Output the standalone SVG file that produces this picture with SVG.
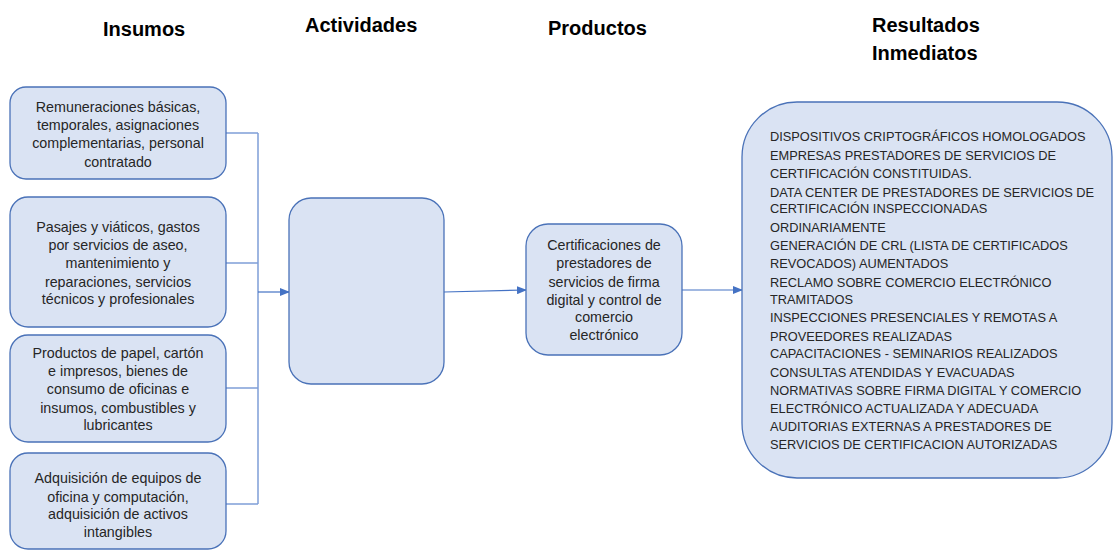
<svg xmlns="http://www.w3.org/2000/svg" width="1115" height="551" viewBox="0 0 1115 551">
<style>
.title{font-family:"Liberation Sans",Arial,sans-serif;font-weight:bold;font-size:20px;fill:#000}
.box{fill:#DAE3F3;stroke:#4A72B8;stroke-width:1.3}
.t{font-family:"Liberation Sans",Arial,sans-serif;font-size:14.3px;fill:#262626;text-anchor:middle}
.r{font-family:"Liberation Sans",Arial,sans-serif;font-size:12.8px;fill:#262626}
.ln{fill:none;stroke:#4472C4;stroke-width:1.2}
.lnl{fill:none;stroke:#7F9FD8;stroke-width:1.5}
</style>
<defs>
<marker id="ah" markerWidth="10" markerHeight="8" refX="9" refY="4" orient="auto" markerUnits="userSpaceOnUse">
<path d="M0,0 L10,4 L0,8 Z" fill="#4472C4"/>
</marker>
</defs>
<rect width="1115" height="551" fill="#fff"/>
<g id="titles">
<text class="title" x="103" y="36">Insumos</text>
<text class="title" x="305" y="32">Actividades</text>
<text class="title" x="548" y="35">Productos</text>
<text class="title" x="872" y="32">Resultados</text>
<text class="title" x="872" y="60">Inmediatos</text>
</g>
<g id="connectors">
<path class="lnl" d="M226,133 H258 M226,263 H258 M226,388 H258 M226,504 H258 M258,133 V504"/>
<path class="ln" d="M258,292 H289" marker-end="url(#ah)"/>
<path class="ln" d="M444,292 L526,290" marker-end="url(#ah)"/>
<path class="ln" d="M682,290 H742" marker-end="url(#ah)"/>
</g>
<g id="insumo1">
<rect class="box" x="10" y="87" width="216" height="92" rx="16"/>
<text class="t" x="118" y="112">Remuneraciones básicas,</text>
<text class="t" x="118" y="130">temporales, asignaciones</text>
<text class="t" x="118" y="148">complementarias, personal</text>
<text class="t" x="118" y="167">contratado</text>
</g>
<g id="insumo2">
<rect class="box" x="10" y="197" width="216" height="130" rx="18"/>
<text class="t" x="118" y="232">Pasajes y viáticos, gastos</text>
<text class="t" x="118" y="250">por servicios de aseo,</text>
<text class="t" x="118" y="268">mantenimiento y</text>
<text class="t" x="118" y="287">reparaciones, servicios</text>
<text class="t" x="118" y="304">técnicos y profesionales</text>
</g>
<g id="insumo3">
<rect class="box" x="10" y="335" width="216" height="107" rx="18"/>
<text class="t" x="118" y="358">Productos de papel, cartón</text>
<text class="t" x="118" y="376">e impresos, bienes de</text>
<text class="t" x="118" y="394">consumo de oficinas e</text>
<text class="t" x="118" y="413">insumos, combustibles y</text>
<text class="t" x="118" y="430">lubricantes</text>
</g>
<g id="insumo4">
<rect class="box" x="10" y="453" width="216" height="96" rx="18"/>
<text class="t" x="118" y="483">Adquisición de equipos de</text>
<text class="t" x="118" y="502">oficina y computación,</text>
<text class="t" x="118" y="519">adquisición de activos</text>
<text class="t" x="118" y="537">intangibles</text>
</g>
<g id="actividades">
<rect class="box" x="289" y="198" width="155" height="186" rx="22"/>
</g>
<g id="productos">
<rect class="box" x="526" y="224" width="156" height="131" rx="22"/>
<text class="t" x="604" y="250">Certificaciones de</text>
<text class="t" x="604" y="268">prestadores de</text>
<text class="t" x="604" y="287">servicios de firma</text>
<text class="t" x="604" y="305">digital y control de</text>
<text class="t" x="604" y="322">comercio</text>
<text class="t" x="604" y="340">electrónico</text>
</g>
<g id="resultados">
<rect class="box" x="742" y="102" width="370" height="376" rx="55"/>
<text class="r" x="770" y="141">DISPOSITIVOS CRIPTOGRÁFICOS HOMOLOGADOS</text>
<text class="r" x="770" y="160">EMPRESAS PRESTADORES DE SERVICIOS DE</text>
<text class="r" x="770" y="178">CERTIFICACIÓN CONSTITUIDAS.</text>
<text class="r" x="770" y="197">DATA CENTER DE PRESTADORES DE SERVICIOS DE</text>
<text class="r" x="770" y="213">CERTIFICACIÓN INSPECCIONADAS</text>
<text class="r" x="770" y="232">ORDINARIAMENTE</text>
<text class="r" x="770" y="250">GENERACIÓN DE CRL (LISTA DE CERTIFICADOS</text>
<text class="r" x="770" y="268">REVOCADOS) AUMENTADOS</text>
<text class="r" x="770" y="287">RECLAMO SOBRE COMERCIO ELECTRÓNICO</text>
<text class="r" x="770" y="304">TRAMITADOS</text>
<text class="r" x="770" y="322">INSPECCIONES PRESENCIALES Y REMOTAS A</text>
<text class="r" x="770" y="341">PROVEEDORES REALIZADAS</text>
<text class="r" x="770" y="358">CAPACITACIONES - SEMINARIOS REALIZADOS</text>
<text class="r" x="770" y="377">CONSULTAS ATENDIDAS Y EVACUADAS</text>
<text class="r" x="770" y="395">NORMATIVAS SOBRE FIRMA DIGITAL Y COMERCIO</text>
<text class="r" x="770" y="413">ELECTRÓNICO ACTUALIZADA Y ADECUADA</text>
<text class="r" x="770" y="431">AUDITORIAS EXTERNAS A PRESTADORES DE</text>
<text class="r" x="770" y="449">SERVICIOS DE CERTIFICACION AUTORIZADAS</text>
</g>
</svg>
